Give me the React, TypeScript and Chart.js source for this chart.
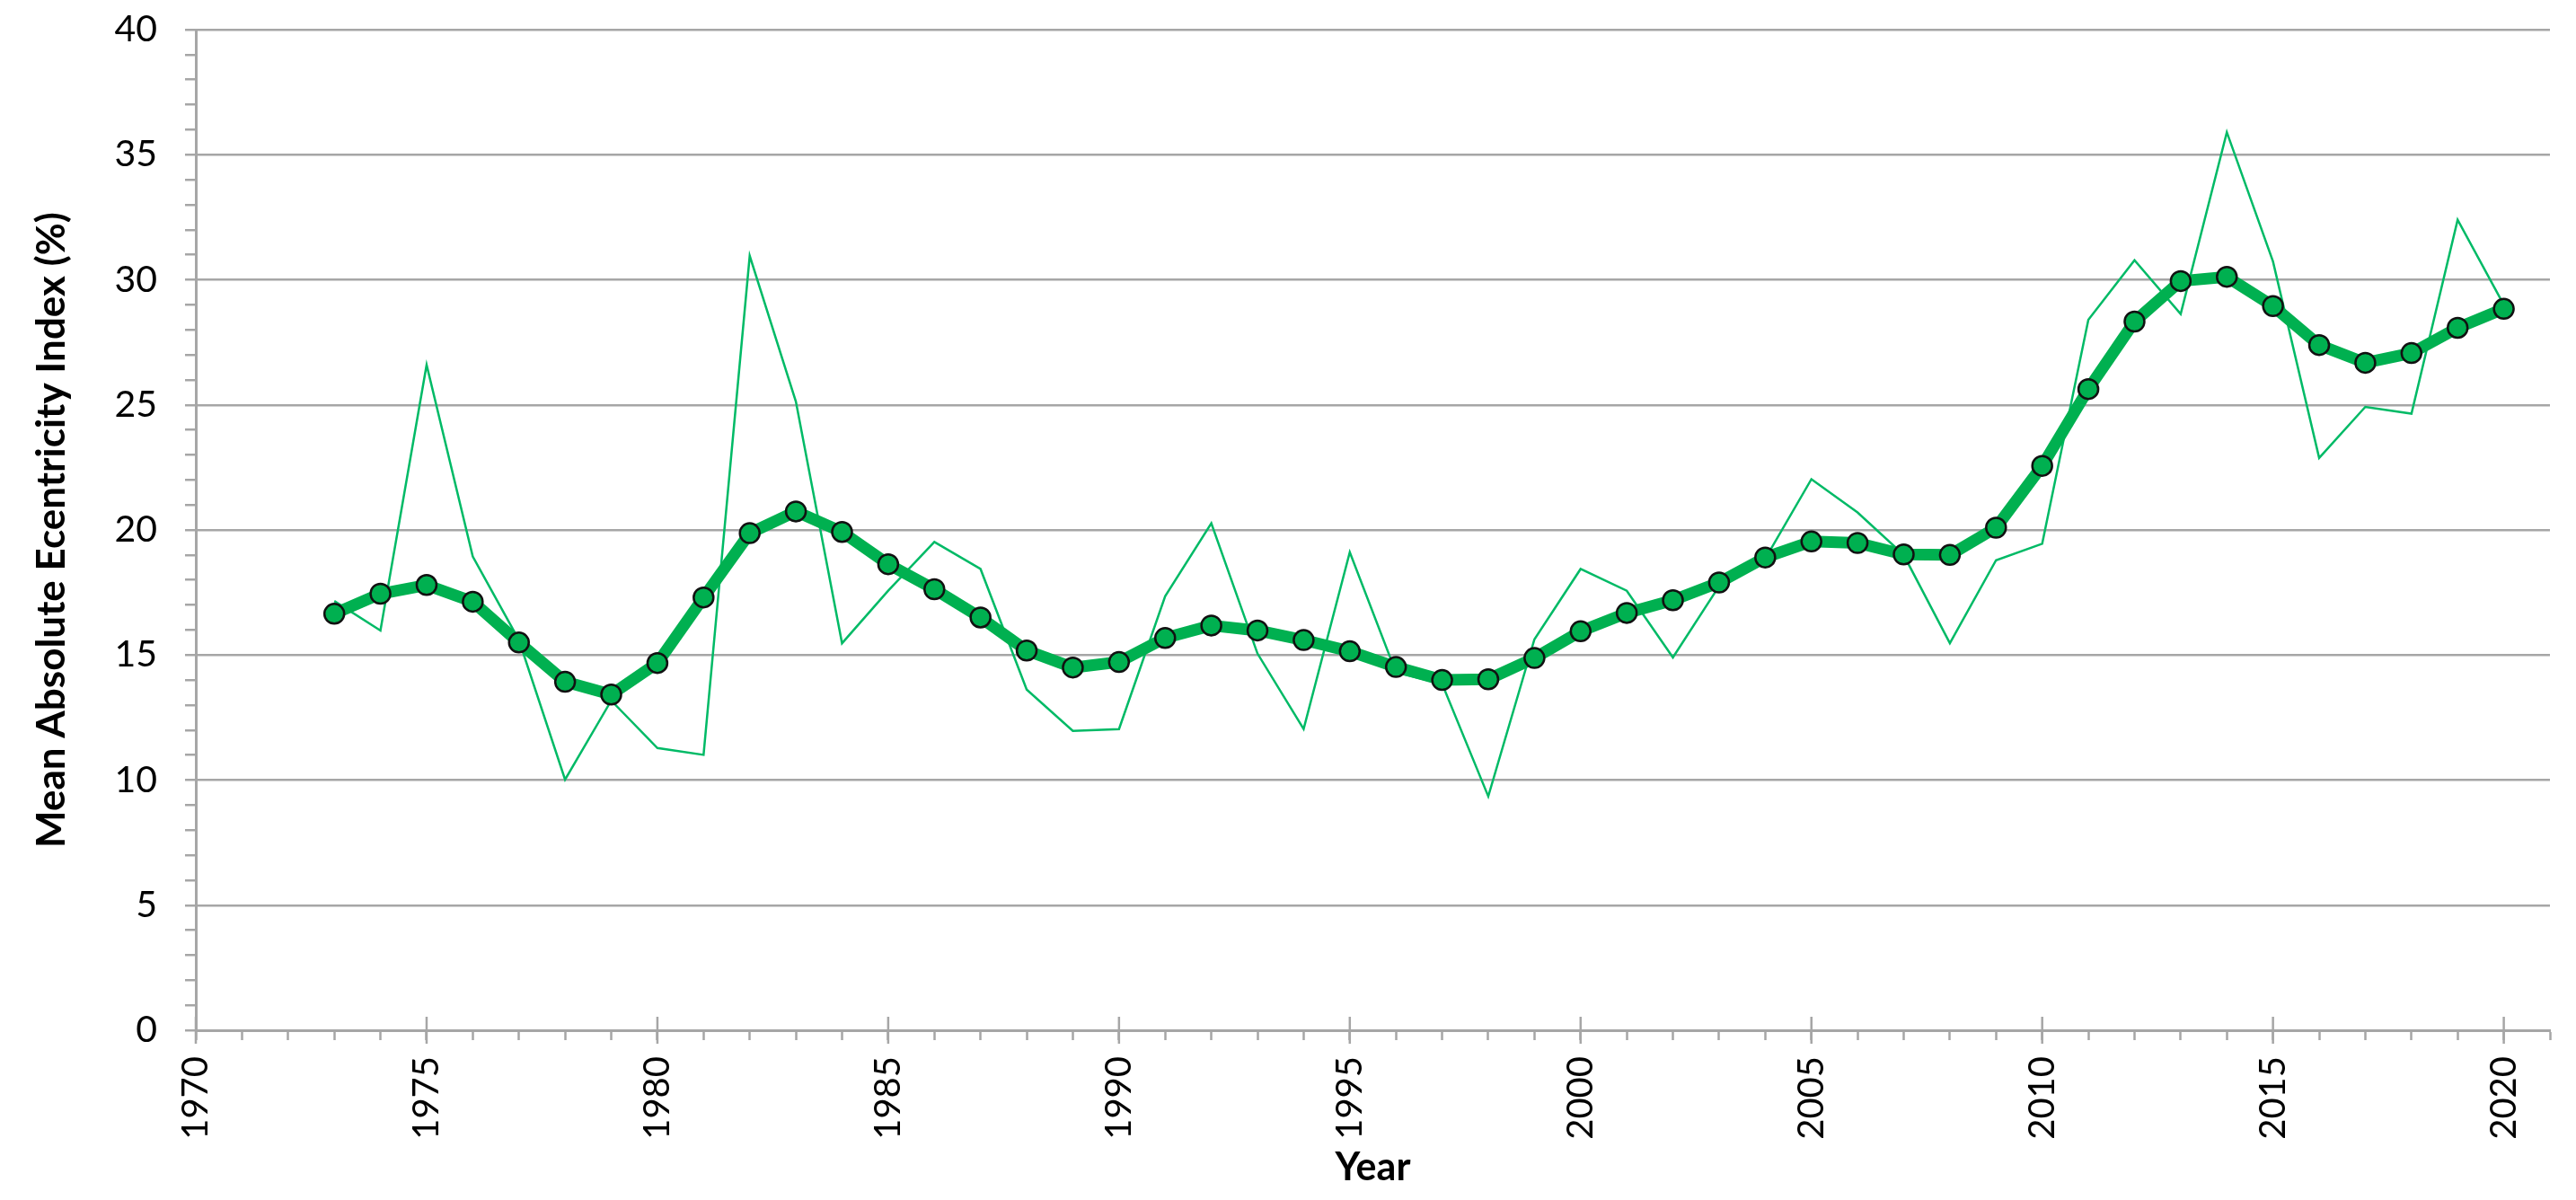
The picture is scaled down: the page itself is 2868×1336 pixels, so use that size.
import React, { useEffect, useRef } from "react";
import { Chart, registerables } from "chart.js";

Chart.register(...registerables);

const years = [
  1973, 1974, 1975, 1976, 1977, 1978, 1979, 1980, 1981, 1982, 1983, 1984,
  1985, 1986, 1987, 1988, 1989, 1990, 1991, 1992, 1993, 1994, 1995, 1996,
  1997, 1998, 1999, 2000, 2001, 2002, 2003, 2004, 2005, 2006, 2007, 2008,
  2009, 2010, 2011, 2012, 2013, 2014, 2015, 2016, 2017, 2018, 2019, 2020,
];

const smoothedIndex = [
  16.65, 17.45, 17.8, 17.13, 15.5, 13.93, 13.42, 14.68, 17.3, 19.87, 20.74, 19.92,
  18.63, 17.63, 16.5, 15.18, 14.5, 14.72, 15.68, 16.18, 15.98, 15.6, 15.15, 14.52,
  14.0, 14.03, 14.88, 15.95, 16.68, 17.19, 17.9, 18.9, 19.54, 19.48, 19.02, 19.0,
  20.09, 22.56, 25.63, 28.33, 29.95, 30.12, 28.95, 27.39, 26.68, 27.07, 28.08, 28.84,
];

const annualIndex = [
  17.16, 15.98, 26.6, 18.94, 15.6, 10.02, 13.18, 11.28, 11.01, 30.96, 25.13, 15.47,
  17.57, 19.52, 18.44, 13.62, 11.97, 12.04, 17.35, 20.27, 15.06, 12.04, 19.11, 14.3,
  13.85, 9.35, 15.63, 18.44, 17.57, 14.9, 17.75, 18.85, 22.03, 20.7, 19.0, 15.47,
  18.79, 19.45, 28.4, 30.78, 28.63, 35.9, 30.73, 22.88, 24.92, 24.65, 32.4, 29.0,
];

const xMin = 1970;
const xMax = 2021;
const yMin = 0;
const yMax = 40;
const majorStepX = 5;
const majorStepY = 5;

const yTitle = "Mean Absolute Ecentricity Index (%)";
const xTitle = "Year";

const GRID = "#A6A6A6";
const GREEN = "#00B050";
const THIN_GREEN = "#00BA66";
const FONT = "Lato";

const majorTickPlugin = {
  id: "majorXTicks",
  afterDraw(chart: any) {
    const xs = chart.scales.x;
    const ys = chart.scales.y;
    const ctx = chart.ctx;
    const y0 = ys.getPixelForValue(yMin);
    ctx.save();
    ctx.strokeStyle = GRID;
    ctx.lineWidth = 2.5;
    for (let v = xMin; v <= xMax; v += 1) {
      if (v % majorStepX !== 0) continue;
      const px = xs.getPixelForValue(v);
      ctx.beginPath();
      ctx.moveTo(px, y0 - 15);
      ctx.lineTo(px, y0 + 15);
      ctx.stroke();
    }
    ctx.restore();
  },
};

export default function App() {
  const ref = useRef<HTMLCanvasElement | null>(null);

  useEffect(() => {
    if (!ref.current) return;
    const chart = new Chart(ref.current, {
      type: "line",
      data: {
        datasets: [
          {
            label: "Smoothed",
            data: years.map((x, i) => ({ x, y: smoothedIndex[i] })),
            borderColor: GREEN,
            backgroundColor: GREEN,
            borderWidth: 13,
            borderJoinStyle: "round",
            borderCapStyle: "round",
            pointRadius: 11,
            pointBorderWidth: 2.5,
            pointBorderColor: "#111111",
            pointBackgroundColor: GREEN,
            tension: 0,
          },
          {
            label: "Annual",
            data: years.map((x, i) => ({ x, y: annualIndex[i] })),
            borderColor: THIN_GREEN,
            borderWidth: 2.5,
            pointRadius: 0,
            tension: 0,
          },
        ],
      },
      plugins: [majorTickPlugin],
      options: {
        animation: false,
        responsive: false,
        devicePixelRatio: 1,
        layout: { padding: { top: 33, right: 29, left: 0, bottom: 0 } },
        plugins: {
          legend: { display: false },
          tooltip: { enabled: false },
        },
        scales: {
          x: {
            type: "linear",
            min: xMin,
            max: xMax,
            afterFit: (s: any) => {
              s.height = 189;
              s.paddingLeft = 0;
              s.paddingRight = 0;
            },
            border: { display: true, color: GRID, width: 3 },
            grid: {
              drawOnChartArea: false,
              drawTicks: true,
              tickLength: 11,
              tickWidth: 2.5,
              tickColor: GRID,
              color: GRID,
            },
            ticks: {
              stepSize: 1,
              autoSkip: false,
              minRotation: 90,
              maxRotation: 90,
              padding: 18,
              color: "#000000",
              font: { family: FONT, size: 40 },
              callback: (v: any) => (Number(v) % majorStepX === 0 ? String(v) : ""),
            },
            title: {
              display: true,
              text: xTitle,
              color: "#000000",
              font: { family: FONT, size: 43, weight: "bold" },
              padding: { top: 0, bottom: 10 },
            },
          },
          y: {
            min: yMin,
            max: yMax,
            afterFit: (s: any) => {
              s.width = 218;
              s.paddingTop = 0;
              s.paddingBottom = 0;
            },
            border: { display: true, color: GRID, width: 3 },
            grid: {
              drawOnChartArea: true,
              drawTicks: true,
              tickLength: 12,
              tickWidth: 2.5,
              lineWidth: 2.5,
              tickColor: GRID,
              color: (c: any) =>
                c.tick && c.tick.value % majorStepY === 0 ? GRID : "rgba(0,0,0,0)",
            },
            ticks: {
              stepSize: 1,
              autoSkip: false,
              padding: 31,
              color: "#000000",
              font: { family: FONT, size: 41 },
              callback: (v: any) => (Number(v) % majorStepY === 0 ? String(v) : ""),
            },
            title: {
              display: true,
              text: yTitle,
              color: "#000000",
              font: { family: FONT, size: 44, weight: "bold" },
              padding: { top: 31, bottom: 0 },
            },
          },
        },
      },
    } as any);
    return () => chart.destroy();
  }, []);

  return (
    <div
      style={{
        position: "fixed",
        left: 0,
        top: 0,
        width: 2868,
        height: 1336,
        background: "#ffffff",
      }}
    >
      <canvas ref={ref} width={2868} height={1336} style={{ width: 2868, height: 1336 }} />
    </div>
  );
}
